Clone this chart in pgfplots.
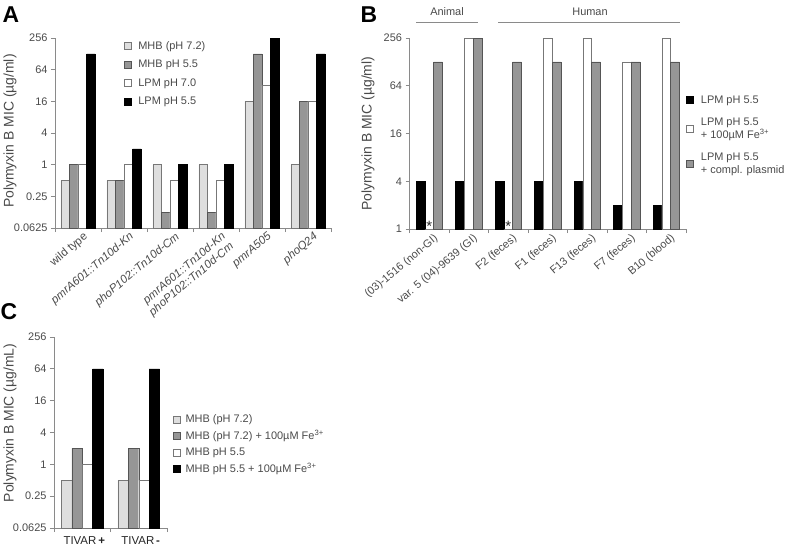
\documentclass[border=0pt]{standalone}
\usepackage{fontspec}
\setmainfont{Liberation Sans}
\usepackage{pgfplots}
\pgfplotsset{compat=1.18}

\definecolor{lgray}{HTML}{DEDEDE}
\definecolor{dgray}{HTML}{969696}
\definecolor{axcol}{HTML}{8A8A8A}
\definecolor{txt}{HTML}{4A4A4A}
\definecolor{edge}{HTML}{555555}

\pgfplotsset{
  s1/.style={fill=lgray, draw=edge!80, line width=0.5pt},
  s2/.style={fill=dgray, draw=edge, line width=0.5pt},
  s3/.style={fill=white, draw=edge!80, line width=0.5pt},
  s4/.style={fill=black, draw=black, line width=0.5pt},
}
\newcommand{\feup}[1]{\textsuperscript{\smash{#1}}}

\begin{document}
\begin{tikzpicture}
\path[use as bounding box] (0bp,0bp) rectangle (789bp,-546bp);

% ---------------- Panel A ----------------
\begin{axis}[
  scale only axis,
  ymode=log, log basis y=2, log origin y=infty,
  axis x line=bottom, axis y line=left,
  axis line style={draw=axcol, line width=0.8pt, -},
  tick style={draw=axcol, line width=0.8pt},
  tick align=outside,
  major tick length=4bp,
  ybar=0pt,
  enlarge x limits=false,
  tick label style={font=\fontsize{11}{13}\selectfont, text=txt},
  ylabel style={font=\fontsize{14}{16}\selectfont, text=txt, anchor=center},
  legend style={draw=none, fill=none, font=\fontsize{11}{13}\selectfont, text=txt, anchor=north west,
    cells={anchor=west, align=left, text height=8bp, text depth=2.5bp},
    /tikz/every odd column/.style={column sep=5bp}},
  legend cell align=left,
  legend image code/.code={\draw[#1, line width=0.5pt] (0bp,-3.5bp) rectangle (7bp,3.5bp);},
  extra x tick style={major tick length=0pt},
  clip=false,
  at={(55bp,-228bp)}, anchor=south west,
  width=276bp, height=190bp,
  xmin=-0.5, xmax=5.5, ymin=0.0625, ymax=256,
  ytick={0.0625,0.25,1,4,16,64,256},
  yticklabels={0.0625,0.25,1,4,16,64,256},
  bar width=0.185,
  xtick={-0.5,0.5,1.5,2.5,3.5,4.5,5.5},
  xticklabels={,,,,,,},
  extra x ticks={0,1,2,3,4,5},
  extra x tick labels={wild type,\textit{pmrA601::Tn10d-Kn},\textit{phoP102::Tn10d-Cm},{\textit{pmrA601::Tn10d-Kn}\\\textit{phoP102::Tn10d-Cm}},\textit{pmrA505},\textit{phoQ24}},
  xticklabel style={rotate=40, anchor=north east, align=right, inner sep=1.5pt, xshift=3bp, yshift=-4bp, font=\fontsize{11.5}{13}\selectfont},
  ylabel={Polymyxin B MIC (µg/ml)},
  ylabel style={at={(axis description cs:-0.163,0.51)}},
  legend style={at={(axis description cs:0.238,1.005)}, row sep=5bp},
]
\addplot[s1] coordinates {(0,0.5)(1,0.5)(2,1)(3,1)(4,16)(5,1)};
\addplot[s2] coordinates {(0,1)(1,0.5)(2,0.125)(3,0.125)(4,128)(5,16)};
\addplot[s3] coordinates {(0,1)(1,1)(2,0.5)(3,0.5)(4,32)(5,16)};
\addplot[s4] coordinates {(0,128)(1,2)(2,1)(3,1)(4,256)(5,128)};
\legend{MHB (pH 7.2),MHB pH 5.5,LPM pH 7.0,LPM pH 5.5}
\end{axis}

% ---------------- Panel B ----------------
\begin{axis}[
  scale only axis,
  ymode=log, log basis y=2, log origin y=infty,
  axis x line=bottom, axis y line=left,
  axis line style={draw=axcol, line width=0.8pt, -},
  tick style={draw=axcol, line width=0.8pt},
  tick align=outside,
  major tick length=4bp,
  ybar=0pt,
  enlarge x limits=false,
  tick label style={font=\fontsize{11}{13}\selectfont, text=txt},
  ylabel style={font=\fontsize{14}{16}\selectfont, text=txt, anchor=center},
  legend style={draw=none, fill=none, font=\fontsize{11}{13}\selectfont, text=txt, anchor=north west,
    cells={anchor=west, align=left},
    /tikz/every odd column/.style={column sep=5bp}},
  legend cell align=left,
  legend image code/.code={\draw[#1, line width=0.5pt] (0bp,-3.5bp) rectangle (7bp,3.5bp);},
  extra x tick style={major tick length=0pt},
  clip=false,
  at={(409.5bp,-229bp)}, anchor=south west,
  width=276.5bp, height=191bp,
  xmin=-0.5, xmax=6.5, ymin=1, ymax=256,
  ytick={1,4,16,64,256},
  yticklabels={1,4,16,64,256},
  bar width=0.22,
  xtick={-0.5,0.5,1.5,2.5,3.5,4.5,5.5,6.5},
  xticklabels={,,,,,,,},
  extra x ticks={0,1,2,3,4,5,6},
  extra x tick labels={(03)-1516 (non-GI),var. 5 (04)-9639 (GI),F2 (feces),F1 (feces),F13 (feces),F7 (feces),B10 (blood)},
  xticklabel style={rotate=40, anchor=north east, inner sep=1.5pt, xshift=2bp, yshift=-4bp},
  ylabel={Polymyxin B MIC (µg/ml)},
  ylabel style={at={(axis description cs:-0.150,0.5)}},
  legend style={at={(axis description cs:0.99,0.72)}, row sep=9bp},
]
\addplot[s4] coordinates {(0,4)(1,4)(2,4)(3,4)(4,4)(5,2)(6,2)};
\addplot[s3, point meta=explicit symbolic, nodes near coords=\pgfplotspointmeta,
  every node near coord/.append style={anchor=south, inner sep=0pt, yshift=-3bp, font=\fontsize{15}{15}\selectfont, text=black!85}]
  coordinates {(0,1) [*] (1,256) [{}] (2,1) [*] (3,256) [{}] (4,256) [{}] (5,128) [{}] (6,256) [{}]};
\addplot[s2] coordinates {(0,128)(1,256)(2,128)(3,128)(4,128)(5,128)(6,128)};
\legend{LPM pH 5.5,{LPM pH 5.5\\+ 100µM Fe\feup{3+}},{LPM pH 5.5\\+ compl. plasmid}}
\end{axis}

% ---------------- Panel C ----------------
\begin{axis}[
  scale only axis,
  ymode=log, log basis y=2, log origin y=infty,
  axis x line=bottom, axis y line=left,
  axis line style={draw=axcol, line width=0.8pt, -},
  tick style={draw=axcol, line width=0.8pt},
  tick align=outside,
  major tick length=4bp,
  ybar=0pt,
  enlarge x limits=false,
  tick label style={font=\fontsize{11}{13}\selectfont, text=txt},
  ylabel style={font=\fontsize{14}{16}\selectfont, text=txt, anchor=center},
  legend style={draw=none, fill=none, font=\fontsize{11}{13}\selectfont, text=txt, anchor=north west,
    cells={anchor=west, align=left, text height=8bp, text depth=2.5bp},
    /tikz/every odd column/.style={column sep=3bp}},
  legend cell align=left,
  legend image code/.code={\draw[#1, line width=0.5pt] (0bp,-3.5bp) rectangle (7bp,3.5bp);},
  extra x tick style={major tick length=0pt},
  clip=false,
  at={(54bp,-528bp)}, anchor=south west,
  width=113bp, height=191bp,
  xmin=-0.5, xmax=1.5, ymin=0.0625, ymax=256,
  ytick={0.0625,0.25,1,4,16,64,256},
  yticklabels={0.0625,0.25,1,4,16,64,256},
  bar width=0.184,
  xtick={-0.5,0.5,1.5},
  xticklabels={,,},
  extra x ticks={0,1},
  extra x tick labels={TIVAR\,\textbf{+},TIVAR\,\textbf{-}},
  xticklabel style={anchor=north, font=\fontsize{11.5}{13}\selectfont, text=black!85, yshift=-5bp, xshift=2bp},
  ylabel={Polymyxin B MIC (µg/mL)},
  ylabel style={at={(axis description cs:-0.389,0.55)}},
  legend style={at={(axis description cs:1.025,0.615)}, row sep=3bp},
]
\addplot[s1] coordinates {(0,0.5)(1,0.5)};
\addplot[s2] coordinates {(0,2)(1,2)};
\addplot[s3] coordinates {(0,1)(1,0.5)};
\addplot[s4] coordinates {(0,64)(1,64)};
\legend{MHB (pH 7.2),MHB (pH 7.2) + 100µM Fe\feup{3+},MHB pH 5.5,MHB pH 5.5 + 100µM Fe\feup{3+}}
\end{axis}

% ---------------- Annotations ----------------
\node[font=\bfseries\fontsize{23}{23}\selectfont] at (11bp,-15bp) {A};
\node[font=\bfseries\fontsize{23}{23}\selectfont] at (369bp,-15bp) {B};
\node[font=\bfseries\fontsize{23}{23}\selectfont] at (9bp,-312bp) {C};
\node[font=\fontsize{11}{13}\selectfont, text=txt] at (447bp,-12bp) {Animal};
\node[font=\fontsize{11}{13}\selectfont, text=txt] at (590bp,-12bp) {Human};
\draw[axcol, line width=0.8pt] (416bp,-22bp) -- (478bp,-22bp);
\draw[axcol, line width=0.8pt] (498bp,-22bp) -- (680bp,-22bp);
\end{tikzpicture}
\end{document}
